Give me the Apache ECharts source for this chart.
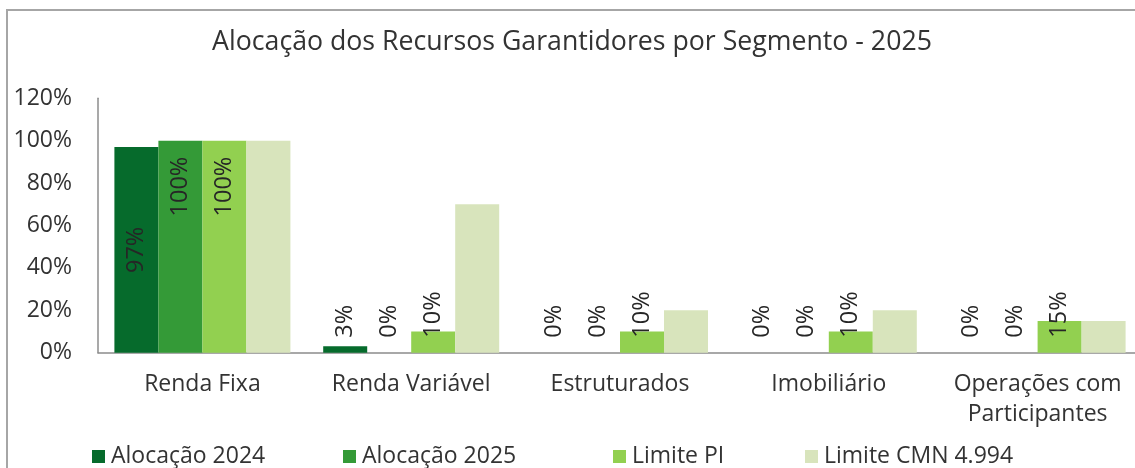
<!DOCTYPE html>
<html>
<head>
<meta charset="utf-8">
<script src="https://cdn.jsdelivr.net/npm/echarts@6/dist/echarts.min.js"></script>
<style>
  html, body { margin: 0; padding: 0; background: #fff; }
  #chart { width: 1135px; height: 468px; }
</style>
</head>
<body>
<div id="chart"></div>
<script>
const categories = ['Renda Fixa', 'Renda Variável', 'Estruturados', 'Imobiliário', 'Operações com\nParticipantes'];
const seriesNames = ['Alocação 2024', 'Alocação 2025', 'Limite PI', 'Limite CMN 4.994'];
const alocacao2024 = [97, 3, 0, 0, 0];
const alocacao2025 = [100, 0, 0, 0, 0];
const limitePI = [100, 10, 10, 10, 15];
const limiteCMN = [100, 70, 20, 20, 15];
const yTicks = [0, 20, 40, 60, 80, 100, 120];

const colors = ['#066b2c', '#349a37', '#92d050', '#d8e4bc'];
const font = '"Open Sans", "Noto Sans", sans-serif';
const textColor = '#333333';

// label placement as in the source: big bars get the value inside, small ones sit near the base
function labelFor(v) {
    const base = {
        show: true,
        rotate: 90,
        fontFamily: font,
        fontSize: 23.5,
        color: '#262626',
        verticalAlign: 'middle',
        formatter: '{c}%'
    };
    if (v >= 99) return Object.assign(base, { position: 'insideTop', align: 'right', distance: 16 });
    if (v > 50) return Object.assign(base, { position: 'inside', align: 'center' });
    return Object.assign(base, { position: 'insideBottom', align: 'left', distance: 15 });
}

function makeSeries(name, values, color, withLabels) {
    return {
        name: name,
        type: 'bar',
        barWidth: 44,
        barGap: '0%',
        itemStyle: { color: color },
        data: values.map(function (v) {
            return withLabels ? { value: v, label: labelFor(v) } : { value: v };
        })
    };
}

const chart = echarts.init(document.getElementById('chart'));

const legendLefts = [92, 343, 613, 805];

const option = {
    animation: false,
    textStyle: { fontFamily: font },
    graphic: [{
        type: 'polyline',
        shape: { points: [[7, 470], [7, 10], [1140, 10]] },
        style: { fill: null, stroke: '#a6a6a6', lineWidth: 2 },
        silent: true
    }],
    title: {
        text: 'Alocação dos Recursos Garantidores por Segmento - 2025',
        left: 567,
        textAlign: 'center',
        top: 24,
        textStyle: { fontFamily: font, fontSize: 26.7, fontWeight: 'normal', color: textColor }
    },
    legend: seriesNames.map(function (n, i) {
        return {
            data: [n],
            left: legendLefts[i],
            top: 445,
            itemWidth: 13,
            itemHeight: 13,
            itemGap: 0,
            icon: 'rect',
            textStyle: { fontFamily: font, fontSize: 23, color: textColor, padding: [0, 0, 0, 1] },
            padding: 0
        };
    }),
    grid: { left: 98, top: 98.3, width: 1044, height: 254.4, outerBoundsMode: 'none', containLabel: false },
    xAxis: {
        type: 'category',
        data: categories,
        axisLine: { lineStyle: { color: '#8c8c8c', width: 1.5 } },
        axisTick: { show: false },
        axisLabel: {
            fontFamily: font,
            fontSize: 23,
            color: textColor,
            lineHeight: 30,
            margin: 17,
            interval: 0
        }
    },
    yAxis: {
        type: 'value',
        min: yTicks[0],
        max: yTicks[yTicks.length - 1],
        interval: 20,
        axisLine: { show: true, lineStyle: { color: '#8c8c8c', width: 1.5 } },
        axisTick: { show: false },
        splitLine: { show: false },
        axisLabel: {
            fontFamily: font,
            fontSize: 23,
            color: textColor,
            margin: 26,
            formatter: '{value}%'
        }
    },
    series: [
        makeSeries(seriesNames[0], alocacao2024, colors[0], true),
        makeSeries(seriesNames[1], alocacao2025, colors[1], true),
        makeSeries(seriesNames[2], limitePI, colors[2], true),
        makeSeries(seriesNames[3], limiteCMN, colors[3], false)
    ]
};

chart.setOption(option);
</script>
</body>
</html>
